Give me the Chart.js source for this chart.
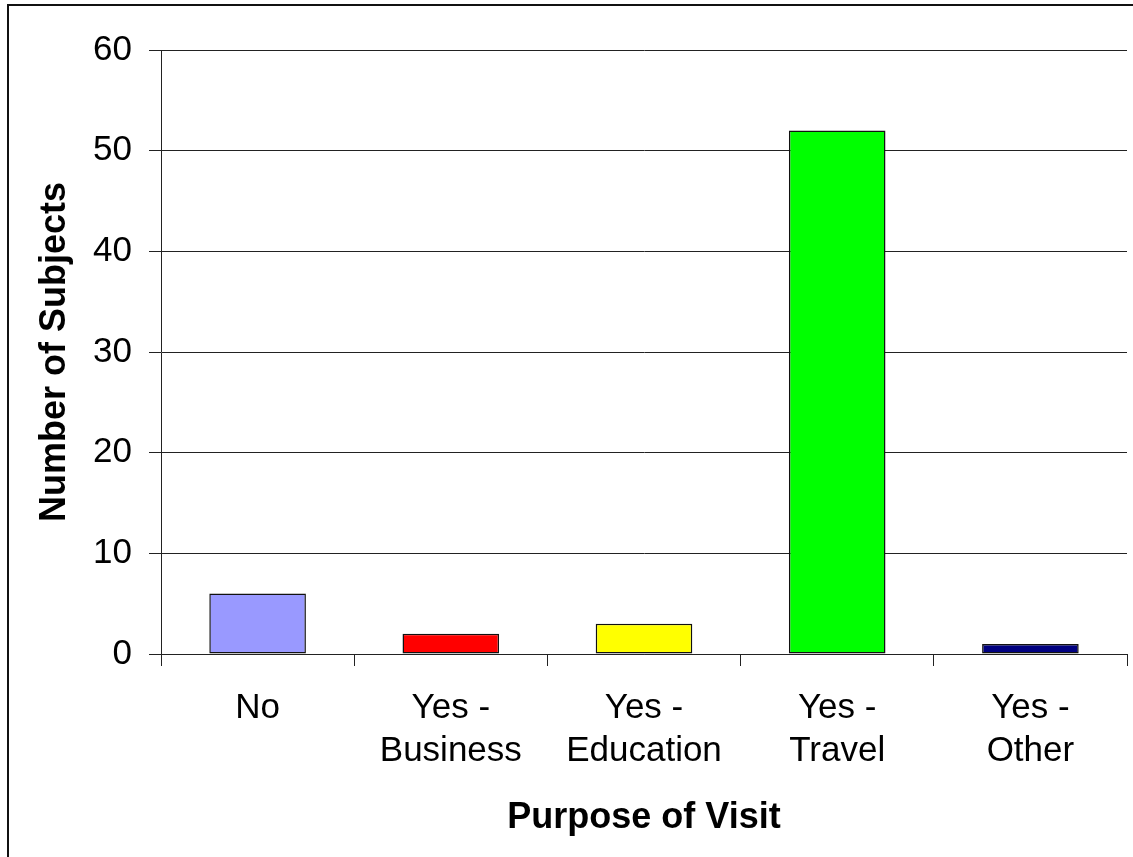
<!DOCTYPE html>
<html>
<head>
<meta charset="utf-8">
<script src="https://cdn.jsdelivr.net/npm/chart.js@4.4.1/dist/chart.umd.min.js"></script>
<style>
  body { margin: 0; background: #fff; }
  #wrap { position: relative; width: 1133px; height: 857px; overflow: hidden; }
  #frame {
    position: absolute; left: 7px; top: 4px; width: 1140px; height: 870px;
    border-left: 2px solid #111; border-top: 2px solid #111;
  }
  canvas { position: absolute; left: 0; top: 0; }
</style>
</head>
<body>
<div id="wrap">
  <div id="frame"></div>
  <canvas id="chart" width="1133" height="857"></canvas>
</div>
<script>
// values
const categories = [["No"], ["Yes -", "Business"], ["Yes -", "Education"], ["Yes -", "Travel"], ["Yes -", "Other"]];
const subjects = [6, 2, 3, 52, 1];
const barColors = ["#9999FF", "#FF0000", "#FFFF00", "#00FF00", "#000080"];
const yTicks = [0, 10, 20, 30, 40, 50, 60];

const font = "'Liberation Sans', Arial, sans-serif";

new Chart(document.getElementById("chart"), {
  type: "bar",
  data: {
    labels: categories,
    datasets: [
      {
        label: "Number of Subjects",
        data: subjects,
        backgroundColor: barColors,
        borderColor: "#111",
        borderWidth: 1.5,
        borderSkipped: false,
        barPercentage: 1,
        categoryPercentage: 0.5,
      },
    ],
  },
  options: {
    responsive: false,
    animation: false,
    devicePixelRatio: 1,
    layout: { padding: { left: 10, top: 50, right: 6, bottom: 0 } },
    plugins: { legend: { display: false }, tooltip: { enabled: false } },
    scales: {
      x: {
        grid: {
          offset: true,
          drawOnChartArea: false,
          drawTicks: true,
          tickLength: 12,
          color: "#222",
        },
        border: { color: "#222" },
        ticks: {
          color: "#000",
          font: { family: font, size: 35, lineHeight: 1.25 },
          padding: 20,
          maxRotation: 0,
          autoSkip: false,
        },
        title: {
          display: true,
          text: "Purpose of Visit",
          color: "#000",
          font: { family: font, size: 36, weight: "bold", lineHeight: 1.2 },
          padding: { top: 0, bottom: 17 },
        },
        afterFit: (scale) => {
          scale.height = 857 - 654;
        },
      },
      y: {
        min: 0,
        max: 60,
        afterBuildTicks: (scale) => {
          scale.ticks = yTicks.map((v) => ({ value: v }));
        },
        grid: { color: "#222", tickLength: 12 },
        border: { color: "#222" },
        ticks: {
          color: "#000",
          font: { family: font, size: 35 },
          padding: 17,
        },
        title: {
          display: true,
          text: "Number of Subjects",
          color: "#000",
          font: { family: font, size: 36, weight: "bold", lineHeight: 1.2 },
          padding: { top: 23, bottom: 0 },
        },
        afterFit: (scale) => {
          scale.width = 161 - 10;
        },
      },
    },
  },
});
</script>
</body>
</html>
